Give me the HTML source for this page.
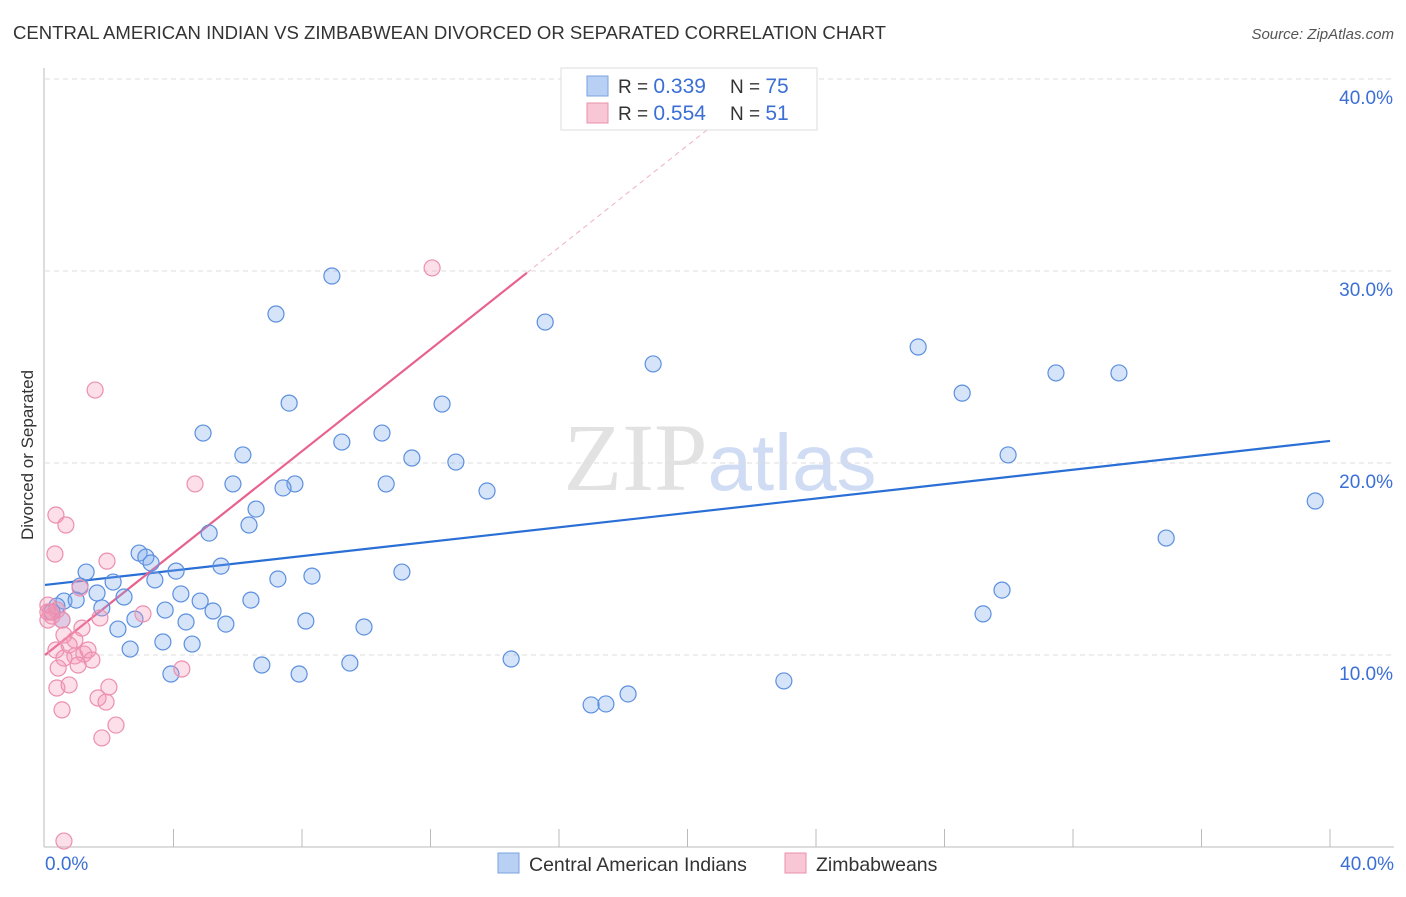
<!DOCTYPE html>
<html><head><meta charset="utf-8"><style>
body{margin:0;background:#fff;font-family:"Liberation Sans",sans-serif}
svg text{font-family:"Liberation Sans",sans-serif}
</style></head><body>
<svg id="chart" width="1406" height="892" viewBox="0 0 1406 892" xmlns="http://www.w3.org/2000/svg">
<text x="13" y="39" font-size="18.5" fill="#333" textLength="873" lengthAdjust="spacingAndGlyphs">CENTRAL AMERICAN INDIAN VS ZIMBABWEAN DIVORCED OR SEPARATED CORRELATION CHART</text>
<text x="1394" y="39" font-size="15" fill="#555" text-anchor="end" font-style="italic">Source: ZipAtlas.com</text>
<text x="720" y="490" font-size="96" text-anchor="middle" fill="#e2e2e2"><tspan font-family="Liberation Serif">ZIP</tspan><tspan fill="#cfdcf3" font-size="80">atlas</tspan></text>
<g id="grid"></g>
<line x1="44" y1="68" x2="44" y2="847" stroke="#bbb"/>
<line x1="44" y1="847" x2="1394" y2="847" stroke="#bbb"/>
<text transform="translate(33,455) rotate(-90)" font-size="17" fill="#333" text-anchor="middle">Divorced or Separated</text>
<g id="ticks"></g>
<g id="lines"></g>
<g id="points"></g>
<g>
<rect x="561" y="68" width="256" height="62" fill="#fff" stroke="#ddd"/>
<rect x="587" y="76" width="21" height="20" fill="#b8d0f4" stroke="#7aa2e0"/>
<rect x="587" y="103" width="21" height="20" fill="#f9c6d5" stroke="#e890ab"/>
<text x="618" y="93" font-size="19" fill="#333">R = <tspan fill="#3b6fd6" font-size="21">0.339</tspan></text>
<text x="730" y="93" font-size="19" fill="#333">N = <tspan fill="#3b6fd6" font-size="21">75</tspan></text>
<text x="618" y="120" font-size="19" fill="#333">R = <tspan fill="#3b6fd6" font-size="21">0.554</tspan></text>
<text x="730" y="120" font-size="19" fill="#333">N = <tspan fill="#3b6fd6" font-size="21"> 51</tspan></text>
</g>
<g>
<rect x="498" y="853" width="21" height="20" fill="#b8d0f4" stroke="#7aa2e0"/>
<text x="529" y="871" font-size="19.5" fill="#333">Central American Indians</text>
<rect x="785" y="853" width="21" height="20" fill="#f9c6d5" stroke="#e890ab"/>
<text x="816" y="871" font-size="19.5" fill="#333">Zimbabweans</text>
</g>
</svg>
<script>
const yTicks=[10,20,30,40];
const yTickLabels=["10.0%","20.0%","30.0%","40.0%"];
const xTicks=[4,8,12,16,20,24,28,32,36,40];
const blueX=[8.93,7.19,15.57,18.93,27.18,28.55,31.47,33.43,7.60,12.36,4.92,10.49,9.24,6.16,11.42,12.79,29.98,5.85,7.78,10.62,7.41,13.76,39.54,6.57,6.35,5.11,34.90,2.93,3.14,3.30,5.48,4.08,11.11,1.28,8.31,7.25,3.42,2.12,1.09,29.79,1.62,2.46,4.23,0.59,0.97,6.41,4.83,1.77,3.74,5.23,29.20,2.80,8.12,4.39,0.53,5.63,9.93,2.27,3.67,4.58,2.65,14.51,9.49,6.75,7.91,3.92,23.0,18.15,17.0,17.46,0.37,0.22];
const blueY=[29.74,27.76,27.34,25.16,26.04,23.64,24.69,24.69,23.12,23.07,21.56,21.56,21.09,20.42,20.26,20.05,20.42,18.91,18.91,18.91,18.70,18.54,18.02,17.60,16.77,16.35,16.09,15.31,15.10,14.79,14.63,14.37,14.32,14.32,14.11,13.96,13.91,13.80,13.59,13.38,13.23,13.02,13.18,12.81,12.86,12.86,12.81,12.45,12.34,12.29,12.14,11.87,11.77,11.72,11.82,11.61,11.46,11.35,10.68,10.57,10.31,9.79,9.58,9.48,9.01,9.01,8.65,7.97,7.40,7.45,12.55,12.24];
const pinkX=[12.05,1.56,4.67,0.34,0.65,0.31,1.93,1.09,3.05,0.09,0.16,0.22,0.09,0.37,0.53,1.71,1.15,0.59,0.93,0.75,0.34,1.21,0.93,0.59,1.03,0.41,4.26,0.37,0.75,1.99,1.65,1.90,0.53,2.21,1.77,0.59,0.09,1.34,1.46];
const pinkY=[30.16,23.80,18.91,17.29,16.77,15.26,14.89,13.49,12.14,12.6,12.24,12.03,11.82,12.34,11.82,11.93,11.4,11.04,10.78,10.52,10.26,10.05,9.95,9.84,9.48,9.32,9.27,8.28,8.44,8.33,7.76,7.55,7.14,6.35,5.68,0.31,12.24,10.26,9.74];
const blueLine=[13.65,21.15];
const pinkLine=[10.0,1.327];
const NS="http://www.w3.org/2000/svg";
const X=v=>45+v*1285/40, Y=v=>847-v*19.2;
function mk(tag,attrs,parent){const e=document.createElementNS(NS,tag);for(const k in attrs)e.setAttribute(k,attrs[k]);document.getElementById(parent).appendChild(e);return e;}
yTicks.forEach((t,i)=>{
 const g=mk('line',{x1:45,x2:1394,y1:Y(t),y2:Y(t),stroke:'#ddd','stroke-dasharray':'5,4'},'grid');
 
 
 const l=mk('text',{x:1393,y:Y(t)+25,'font-size':19,fill:'#3b6fd6','text-anchor':'end'},'ticks');
 l.textContent=yTickLabels[i];
 
 
});
xTicks.forEach(t=>{
 const l=mk('line',{x1:X(t),x2:X(t),y1:829,y2:847,stroke:'#bbb'},'ticks');
 
 
});
const x0=mk('text',{x:45,y:870,'font-size':19,fill:'#3b6fd6'},'ticks');x0.textContent='0.0%';


const x1=mk('text',{x:1394,y:870,'font-size':19,fill:'#3b6fd6','text-anchor':'end'},'ticks');x1.textContent='40.0%';


blueX.forEach((v,i)=>{
 const c=mk('circle',{cx:X(v),cy:Y(blueY[i]),r:8,fill:'rgba(120,165,235,0.3)',stroke:'#5b8fdf','stroke-width':1.2},'points');
 
 
});
pinkX.forEach((v,i)=>{
 const c=mk('circle',{cx:X(v),cy:Y(pinkY[i]),r:8,fill:'rgba(245,150,180,0.3)',stroke:'#ec8fae','stroke-width':1.2},'points');
 
 
});
const bl=mk('line',{x1:X(0),y1:Y(blueLine[0]),x2:X(40),y2:Y(blueLine[1]),stroke:'#2a6fd6','stroke-width':2.2},'lines');


const pl=mk('line',{x1:X(0),y1:Y(pinkLine[0]),x2:X(15),y2:Y(pinkLine[0]+15*pinkLine[1]),stroke:'#e8628f','stroke-width':2.2},'lines');


const pd=mk('line',{x1:X(15),y1:Y(pinkLine[0]+15*pinkLine[1]),x2:X(21.5),y2:Y(pinkLine[0]+21.5*pinkLine[1]),stroke:'#eeb0c4','stroke-width':1,'stroke-dasharray':'5,4'},'lines');


</script>
</body></html>
